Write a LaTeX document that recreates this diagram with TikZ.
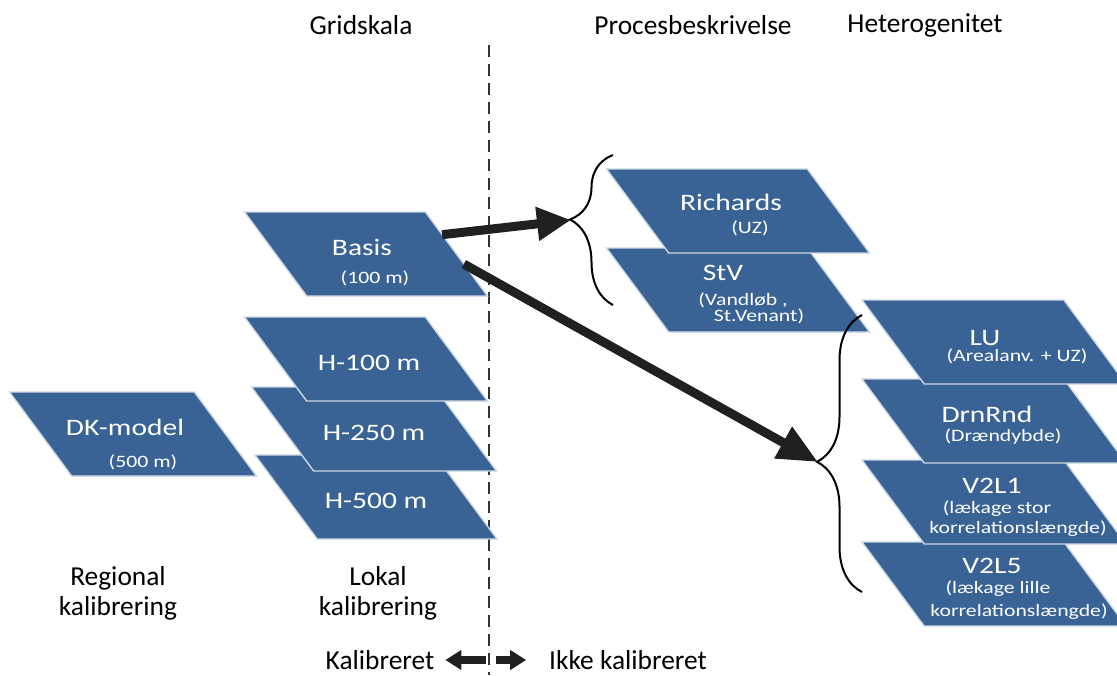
\documentclass[tikz,border=0pt]{standalone}
\usepackage{fontspec}
\setmainfont{Carlito}
\newfontfamily\tilefont[FakeStretch=1.25]{Carlito}
\usetikzlibrary{positioning, shapes.geometric, arrows.meta, calc, decorations.pathreplacing}

\definecolor{tileblue}{RGB}{57,99,149}
\definecolor{arrowgray}{RGB}{32,32,32}
\newcommand{\tilesub}[1]{{\fontsize{8.7}{10}\selectfont #1}}
\newcommand{\tshift}[2]{\kern#1\relax#2\kern-#1\relax}
\newcommand{\tiletext}[2][6pt]{\vbox to 40pt{\vss\vskip#1\hbox to 50pt{\hss\begin{tabular}{@{}c@{}}#2\end{tabular}\hss}\vss}}

\begin{document}
\begin{tikzpicture}[
  x=0.5pt, y=-0.5pt,
  every node/.style={font=\fontsize{13.7}{15}\selectfont},
  tile/.style={trapezium, trapezium left angle=126.5, trapezium right angle=53.5,
    trapezium stretches body, inner xsep=0pt, inner ysep=1pt, outer sep=0pt,
    fill=tileblue, draw=white!75!tileblue, line width=0.7pt,
    text=white, font=\tilefont\fontsize{11.8}{13}\selectfont},
  lbl/.style={align=center},
  bigarrow/.style={draw=arrowgray, line width=4.5pt, -{Triangle[length=17pt, width=16pt]}},
  blkarrow/.style={draw=arrowgray, line width=3.8pt, -{Triangle[length=8pt, width=9.5pt]}},
  curly/.style={draw, line width=1pt, decorate}
]
\clip (0,0) rectangle (1117,675);

% divider between calibrated and not calibrated
\coordinate (divtop) at (489,45);
\coordinate (divbot) at (489,675);
\draw[gray!40!black, line width=1pt, dash pattern=on 6pt off 3.5pt] (divtop) -- (divbot);

% Gridskala column
\node[tile, minimum width=123.5pt] (dk) at (133,434) {\tiletext[12pt]{\tshift{-4pt}{DK-model}\\[3pt]\tilesub{\tshift{5pt}{(500 m)}}}};
\node[tile, minimum width=121.5pt] (basis) at (366,254) {\tiletext[10pt]{\tshift{-2pt}{Basis}\\[1pt]\tilesub{\tshift{4.5pt}{(100 m)}}}};
\node[tile, minimum width=121pt] (h500) at (376,497) {\tiletext{H-500 m}};
\node[tile, minimum width=122.5pt] (h250) at (374,429) {\tiletext{H-250 m}};
\node[tile, minimum width=121.5pt] (h100) at (366,359) {\tiletext{\tshift{1.5pt}{H-100 m}}};

% Procesbeskrivelse column
\node[tile, minimum width=131.5pt] (stv) at (738,290) {\tiletext{\tshift{-7.5pt}{StV}\\[-0.5pt]\tilesub{\tshift{2.5pt}{(Vandløb ,}}\\[-5pt]\tilesub{\tshift{10.5pt}{St.Venant)}}}};
\node[tile, minimum width=131.5pt] (rich) at (738,211) {\tiletext{\tshift{-3.5pt}{Richards}\\[-1.5pt]\tilesub{\tshift{6pt}{(UZ)}}}};

% Heterogenitet column
\node[tile, minimum width=132pt] (v2l5) at (994,584) {\tiletext{\tshift{-1pt}{V2L5}\\[-3pt]\tilesub{\tshift{2pt}{(lækage lille}}\\[-1.5pt]\tilesub{\tshift{12.5pt}{korrelationslængde)}}}};
\node[tile, minimum width=132pt] (v2l1) at (994,502) {\tiletext{\tshift{-1pt}{V2L1}\\[-3pt]\tilesub{\tshift{1.5pt}{(lækage stor}}\\[-3pt]\tilesub{\tshift{12pt}{korrelationslængde)}}}};
\node[tile, minimum width=132pt] (drn) at (994,421) {\tiletext{\tshift{-3.5pt}{DrnRnd}\\[-3.5pt]\tilesub{\tshift{4.5pt}{(Drændybde)}}}};
\node[tile, minimum width=132pt] (lu) at (994,342) {\tiletext{\tshift{-4.5pt}{LU}\\[-5pt]\tilesub{\tshift{11.5pt}{(Arealanv. + UZ)}}}};

% braces
\coordinate (tipA) at (571,220);
\coordinate (tipB) at (818,462);
\draw[curly, decoration={brace, mirror, amplitude=21.5pt, aspect=0.43}] (613,155) -- (613,305);
\draw[curly, decoration={brace, mirror, amplitude=22.5pt, aspect=0.53}] (862,315) -- (862,592);

% arrows out of Basis
\draw[bigarrow] ($(basis.top right corner)!0.27!(basis.bottom right corner)$) -- (tipA);
\draw[bigarrow, -{Triangle[length=20pt, width=17pt]}] ($(basis.top right corner)!0.62!(basis.bottom right corner)$) -- (tipB);

% column headings
\node[lbl] (gridskala) at (361,25) {Gridskala};
\node[lbl] (proces) at (693,25) {Procesbeskrivelse};
\node[lbl] (hetero) at (925,25) {Heterogenitet};

% calibration labels
\node[lbl] (regional) at (118,593) {Regional\\kalibrering};
\node[lbl] (lokal) at (378,593) {Lokal\\kalibrering};

% bottom legend
\node[lbl] (kal) at (380,660) {Kalibreret};
\node[lbl] (ikke) at (628,660) {Ikke kalibreret};
\coordinate (legL) at (486,660);
\coordinate (legR) at (496,660);
\draw[blkarrow] (legL) -- ($(kal.east)+(4,0)$);
\draw[blkarrow] (legR) -- ($(ikke.west)+(-16,0)$);
\end{tikzpicture}
\end{document}
